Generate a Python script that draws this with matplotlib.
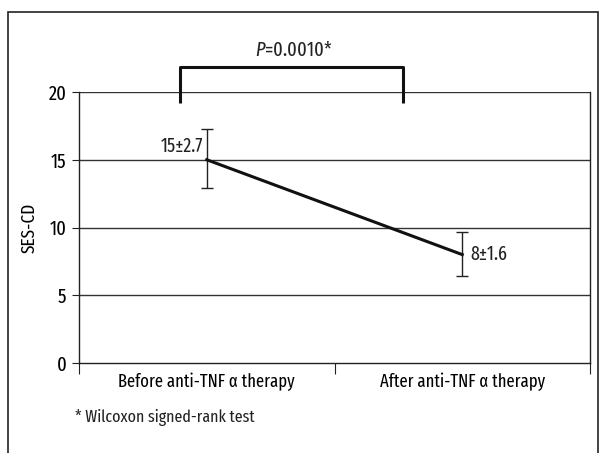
import matplotlib.pyplot as plt
from matplotlib.patches import Rectangle

categories = ["Before anti-TNF α therapy", "After anti-TNF α therapy"]
means = [15, 8]
err_up = [2.25, 1.65]
err_low = [2.05, 1.6]
point_labels = ["15±2.7", "8±1.6"]
p_text = "=0.0010*"
footnote = "* Wilcoxon signed-rank test"
y_ticks = [0, 5, 10, 15, 20]

FONT = "Fira Sans Extra Condensed"
plt.rcParams["font.family"] = [FONT, "DejaVu Sans"]
plt.rcParams["font.size"] = 13
plt.rcParams["text.color"] = "#222222"
plt.rcParams["mathtext.fontset"] = "custom"
plt.rcParams["mathtext.it"] = FONT + ":italic"
plt.rcParams["mathtext.rm"] = FONT

fig = plt.figure(figsize=(5.99, 4.53), dpi=100)
W, H = 599, 453
ax = fig.add_axes([79 / W, 1 - 363 / H, (590 - 79) / W, (363 - 92) / H])

# outer frame
fig.patches.append(Rectangle((8 / W, -0.05), (598 - 8) / W, 1 - 12 / H + 0.05,
                             transform=fig.transFigure, fill=False,
                             edgecolor="#222222", linewidth=1.2))

xs = [0.5, 1.5]
for y in y_ticks[1:]:
    ax.axhline(y, color="#333333", linewidth=1.0, zorder=1)

ax.errorbar(xs, means, yerr=[err_low, err_up], fmt="none", ecolor="#222222",
            elinewidth=1.0, capsize=4, capthick=1.0, zorder=2)
ax.plot(xs, means, color="#111111", linewidth=2.2, zorder=3)

ax.text(xs[0] - 0.015, means[0] + 0.25, point_labels[0], ha="right", va="bottom",
        fontsize=14)
ax.text(xs[1] + 0.03, means[1], point_labels[1], ha="left", va="center",
        fontsize=14)

# significance bracket
bx0, bx1, by, bdrop = 0.395, 1.268, 21.85, 19.2
ax.plot([bx0, bx0, bx1, bx1], [bdrop, by, by, bdrop], color="#111111",
        linewidth=2.2, clip_on=False, solid_capstyle="butt")
ax.text((bx0 + bx1) / 2 + 0.01, by + 0.5, "$\\it{P}$" + p_text, ha="center",
        va="bottom", fontsize=14.5)

ax.set_xlim(0, 2)
ax.set_ylim(0, 20)
ax.set_yticks(y_ticks)
ax.set_xticks([0, 1, 2])
ax.set_xticklabels([])
ax.set_xticks(xs, minor=True)
ax.set_xticklabels(categories, minor=True)
ax.tick_params(axis="x", which="minor", length=0, pad=7, labelsize=13)
ax.tick_params(axis="x", which="major", length=8, direction="out", color="#222222")
ax.tick_params(axis="y", length=5, direction="out", color="#222222", labelsize=14.5, pad=4)
ax.spines["top"].set_visible(False)
for s in ["left", "bottom", "right"]:
    ax.spines[s].set_color("#222222")
    ax.spines[s].set_linewidth(1.0)

ax.set_ylabel("SES-CD", fontsize=13.5, labelpad=7)
fig.text(75 / W, 1 - 418 / H, footnote, ha="left", va="center", fontsize=12.5)

fig.savefig("out.png", dpi=100)
